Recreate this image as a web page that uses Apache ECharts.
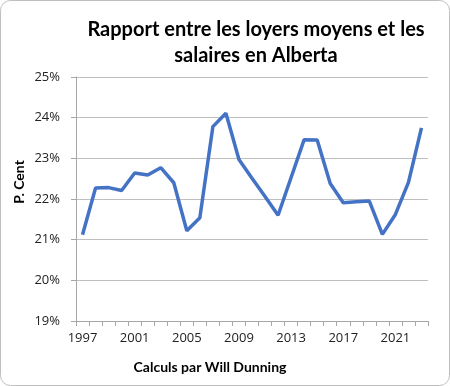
<!DOCTYPE html>
<html><head><meta charset="utf-8">
<script src="https://cdn.jsdelivr.net/npm/echarts@6/dist/echarts.min.js"></script>
<style>html,body{margin:0;padding:0;background:#fff}#c{width:450px;height:386px}</style>
</head><body><div id="c"></div>
<script>
var years = ['1997','1998','1999','2000','2001','2002','2003','2004','2005','2006','2007','2008','2009','2010','2011','2012','2013','2014','2015','2016','2017','2018','2019','2020','2021','2022','2023'];
var ratio = [21.12,22.27,22.28,22.21,22.64,22.59,22.77,22.40,21.22,21.54,23.78,24.11,22.97,22.51,22.06,21.60,22.53,23.46,23.45,22.38,21.91,21.93,21.95,21.13,21.62,22.41,23.75];
var yTicks = [19,20,21,22,23,24,25];
var titleText = 'Rapport entre les loyers moyens et les\nsalaires en Alberta';
var yName = 'P. Cent';
var xName = 'Calculs par Will Dunning';

var chart = echarts.init(document.getElementById('c'), null, {renderer:'canvas'});
chart.setOption({
  animation:false,
  title:{text:titleText,left:251,top:12,textAlign:'center',
    textStyle:{fontFamily:'Lato',fontWeight:'bold',fontSize:20,color:'#000',lineHeight:26}},
  grid:{left:76,right:22,top:77,bottom:65,containLabel:false},
  graphic:[
    {type:'rect',shape:{x:0.5,y:0.5,width:449,height:385,r:10},style:{fill:'none',stroke:'#bfbfbf',lineWidth:1}},
    {type:'text',x:210,y:367,style:{text:xName,textAlign:'center',textVerticalAlign:'middle',font:'bold 14px Lato',fill:'#000'}},
    {type:'text',x:19,y:182,rotation:Math.PI/2,style:{text:yName,textAlign:'center',textVerticalAlign:'middle',font:'bold 14px Lato',fill:'#000'}}
  ],
  xAxis:{type:'category',data:years,boundaryGap:true,
    axisLine:{lineStyle:{color:'#a6a6a6'}},
    axisTick:{show:true,interval:0,length:5,lineStyle:{color:'#a6a6a6'}},
    axisLabel:{interval:3,color:'#222',fontFamily:'Open Sans',fontSize:13,margin:11}},
  yAxis:{type:'value',min:yTicks[0],max:yTicks[yTicks.length-1],interval:1,
    axisLine:{show:true,lineStyle:{color:'#a6a6a6'}},
    axisTick:{show:true,length:5,lineStyle:{color:'#a6a6a6'}},
    splitLine:{lineStyle:{color:'#bfbfbf'}},
    axisLabel:{formatter:function(v){return v+'%';},color:'#222',fontFamily:'Open Sans',fontSize:13,margin:16}},
  series:[{type:'line',data:ratio,showSymbol:false,lineStyle:{color:'#4472C4',width:3.5},itemStyle:{color:'#4472C4'}}]
});
</script></body></html>
